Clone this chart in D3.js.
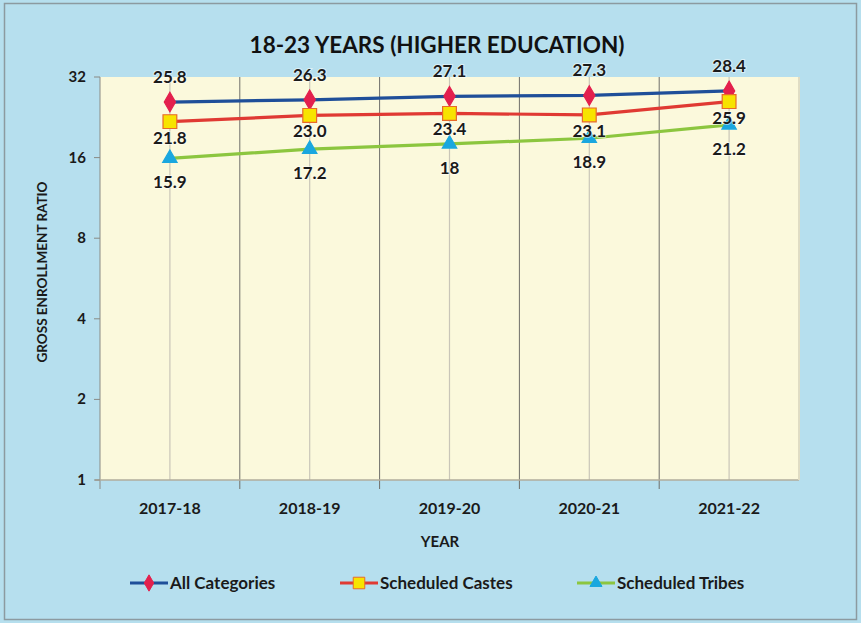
<html>
<script src="https://cdn.jsdelivr.net/npm/d3@7/dist/d3.min.js"></script>
<body style="margin:0">
</body>
<script>
    // chart data
    let years = ["2017-18","2018-19","2019-20","2020-21","2021-22"];
    let allCategories = [25.8, 26.3, 27.1, 27.3, 28.4];
    let scheduledCastes = [21.8, 23.0, 23.4, 23.1, 25.9];
    let scheduledTribes = [15.9, 17.2, 18, 18.9, 21.2];
    let yTicks = [1, 2, 4, 8, 16, 32];
    let seriesNames = ["All Categories","Scheduled Castes","Scheduled Tribes"];

    let W = 861, H = 623;
    let font = "Lato, 'Open Sans', sans-serif";

    let svg = d3.select("body").append("svg")
        .attr("width", W)
        .attr("height", H);

    // background + frame
    svg.append("rect").attr("x",0).attr("y",0).attr("width",W).attr("height",H).attr("fill","#b6dfee");
    svg.append("rect").attr("x",4.5).attr("y",3.5).attr("width",W-9).attr("height",H-7)
        .attr("fill","none").attr("stroke","#8c9aa0").attr("stroke-width",1.5);

    let plot = {left:100, right:799, top:77, bottom:480};

    let x = d3.scaleBand().domain(years).range([plot.left, plot.right]);
    let y = d3.scaleLog().base(2).domain([1,32]).range([plot.bottom, plot.top]);

    svg.append("rect")
        .attr("x",plot.left).attr("y",plot.top)
        .attr("width",plot.right-plot.left).attr("height",plot.bottom-plot.top)
        .attr("fill","#fbf9dc");

    // light lines at category centres
    years.forEach(yr => {
        svg.append("line")
            .attr("x1", x(yr)+x.bandwidth()/2).attr("x2", x(yr)+x.bandwidth()/2)
            .attr("y1", plot.top).attr("y2", plot.bottom)
            .attr("stroke","#c9c6b8").attr("stroke-width",1.2);
    });

    // darker category boundaries, sticking out below as ticks
    years.forEach((yr,i) => {
        if (i == 0) return;
        svg.append("line")
            .attr("x1", x(yr)).attr("x2", x(yr))
            .attr("y1", plot.top).attr("y2", plot.bottom+9)
            .attr("stroke","#6f6f6a").attr("stroke-width",1);
    });

    // axes lines
    svg.append("line").attr("x1",plot.left).attr("x2",plot.left)
        .attr("y1",plot.top).attr("y2",plot.bottom+9).attr("stroke","#8a8a84");
    svg.append("line").attr("x1",plot.left-5).attr("x2",plot.right)
        .attr("y1",plot.bottom).attr("y2",plot.bottom).attr("stroke","#b0ad9c").attr("stroke-width",1.5);
    svg.append("line").attr("x1",plot.right).attr("x2",plot.right)
        .attr("y1",plot.top).attr("y2",plot.bottom).attr("stroke","#e0ddc4").attr("stroke-width",2);

    // y ticks
    yTicks.forEach(t => {
        svg.append("line").attr("x1",plot.left-6).attr("x2",plot.left)
            .attr("y1",y(t)).attr("y2",y(t)).attr("stroke","#8a8a84");
        svg.append("text")
            .attr("x", 86).attr("y", y(t)+5)
            .attr("text-anchor","end")
            .style("font-family",font).style("font-weight","bold").style("font-size","15px")
            .attr("fill","#1a1a1a")
            .text(t);
    });

    // x labels
    years.forEach(yr => {
        svg.append("text")
            .attr("x", x(yr)+x.bandwidth()/2).attr("y", 514)
            .attr("text-anchor","middle")
            .style("font-family",font).style("font-weight","bold").style("font-size","16px")
            .attr("fill","#1a1a1a")
            .text(yr);
    });

    // titles
    svg.append("text")
        .attr("x", 437).attr("y", 53)
        .attr("text-anchor","middle")
        .style("font-family",font).style("font-weight","bold").style("font-size","22.5px")
        .attr("fill","#111")
        .text("18-23 YEARS (HIGHER EDUCATION)");

    svg.append("text")
        .attr("x", 440).attr("y", 547)
        .attr("text-anchor","middle")
        .style("font-family",font).style("font-weight","bold").style("font-size","15px")
        .attr("fill","#1a1a1a")
        .text("YEAR");

    svg.append("text")
        .attr("transform","translate(47,272) rotate(-90)")
        .attr("text-anchor","middle")
        .style("font-family",font).style("font-weight","bold").style("font-size","13.5px")
        .attr("fill","#1a1a1a")
        .text("GROSS ENROLLMENT RATIO");

    // series
    let series = [
        {name: seriesNames[0], values: allCategories, line: "#1f4f99", marker: "diamond", fill: "#e3204d", mstroke: "#e3204d", size: 110, dy: -19},
        {name: seriesNames[1], values: scheduledCastes, line: "#e03a33", marker: "square", fill: "#f7e400", mstroke: "#e86a2a", size: 190, dy: 22},
        {name: seriesNames[2], values: scheduledTribes, line: "#8cc63f", marker: "triangle", fill: "#1aa7df", mstroke: "#1aa7df", size: 90, dy: 30}
    ];
    let symbolType = {diamond: d3.symbolDiamond, square: d3.symbolSquare, triangle: d3.symbolTriangle};

    let line = d3.line()
        .x((d,i) => x(years[i])+x.bandwidth()/2)
        .y(d => y(d));

    series.forEach(s => {
        svg.append("path")
            .datum(s.values)
            .attr("d", line)
            .attr("fill","none")
            .attr("stroke", s.line)
            .attr("stroke-width", 3.2);
    });

    series.forEach(s => {
        s.values.forEach((v,i) => {
            let cx = x(years[i])+x.bandwidth()/2;
            svg.append("path")
                .attr("d", d3.symbol().type(symbolType[s.marker]).size(s.size))
                .attr("transform", "translate(" + cx + "," + y(v) + ")")
                .attr("fill", s.fill)
                .attr("stroke", s.mstroke)
                .attr("stroke-width", 1.2);
        });
    });

    // data labels
    let fmt = [d3.format(".1f"), d3.format(".1f"), d => String(d)];
    series.forEach((s,k) => {
        s.values.forEach((v,i) => {
            let cx = x(years[i])+x.bandwidth()/2;
            svg.append("text")
                .attr("x", cx).attr("y", y(v) + s.dy)
                .attr("text-anchor","middle")
                .style("font-family",font).style("font-weight","bold").style("font-size","17px")
                .attr("fill","#1a1a1a")
                .attr("stroke","#ffffff").attr("stroke-width",2).attr("stroke-opacity",0.5)
                .style("paint-order","stroke")
                .text(fmt[k](v));
        });
    });

    // legend
    let legendX = [130, 340, 577];
    series.forEach((s,k) => {
        let lx = legendX[k], ly = 583;
        svg.append("line").attr("x1",lx).attr("x2",lx+38)
            .attr("y1",ly).attr("y2",ly).attr("stroke",s.line).attr("stroke-width",3);
        svg.append("path")
            .attr("d", d3.symbol().type(symbolType[s.marker]).size(s.size*0.7))
            .attr("transform","translate(" + (lx+19) + "," + ly + ")")
            .attr("fill", s.fill).attr("stroke", s.mstroke).attr("stroke-width",1);
        svg.append("text")
            .attr("x", lx+40).attr("y", ly+6)
            .style("font-family",font).style("font-weight","bold").style("font-size","17px")
            .attr("fill","#1a1a1a")
            .text(s.name);
    });
</script>
</html>
